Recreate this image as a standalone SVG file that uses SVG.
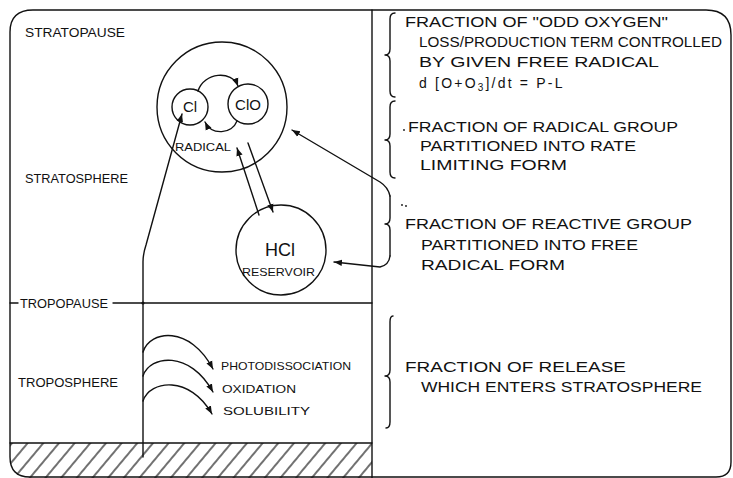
<svg xmlns="http://www.w3.org/2000/svg" width="733" height="478" viewBox="0 0 733 478">
<defs>
<style>
.ln{fill:none;stroke:#111;stroke-width:1.4;stroke-linecap:round;stroke-linejoin:round}
.t{font-family:"Liberation Sans",Arial,sans-serif;fill:#111}
.r{font-size:14px}
.l{font-size:13px}
.s{font-size:11px}
</style>
<marker id="ah" viewBox="0 0 10 10" refX="10" refY="5" markerWidth="8" markerHeight="8" markerUnits="userSpaceOnUse" orient="auto"><path d="M0,1 L10,5 L0,9 Z" fill="#111"/></marker>
<pattern id="hatch" patternUnits="userSpaceOnUse" width="12" height="12" patternTransform="rotate(40)"><line x1="6" y1="-1" x2="6" y2="13" stroke="#111" stroke-width="1.2"/></pattern>
<clipPath id="gc"><path d="M10,443 L372,443 L372,478 L30,478 Q10,478 10,458 Z"/></clipPath>
</defs>
<rect width="733" height="478" fill="#fff"/>

<g id="frame">
<path class="ln" d="M10,32 Q10,10 33,10 L706,10 Q731,10 731,35 L731,462 Q731,477 716,477 L30,477 Q10,477 10,457 Z"/>
<line class="ln" x1="372" y1="10" x2="372" y2="478"/>
</g>

<g id="ground">
<rect x="10" y="443" width="362" height="35" fill="url(#hatch)" clip-path="url(#gc)"/>
<line class="ln" x1="10" y1="443" x2="372" y2="443"/>
</g>

<g id="layers">
<text class="t l" x="25" y="37" textLength="100" lengthAdjust="spacingAndGlyphs">STRATOPAUSE</text>
<text class="t l" x="25" y="183" textLength="103" lengthAdjust="spacingAndGlyphs">STRATOSPHERE</text>
<line class="ln" x1="10" y1="303" x2="18" y2="303"/>
<text class="t l" x="20" y="308" textLength="88" lengthAdjust="spacingAndGlyphs">TROPOPAUSE</text>
<line class="ln" x1="113" y1="303" x2="372" y2="303"/>
<circle cx="143" cy="303" r="1.6" fill="#111"/>
<text class="t l" x="18" y="387" textLength="100" lengthAdjust="spacingAndGlyphs">TROPOSPHERE</text>
</g>

<g id="radical">
<circle class="ln" cx="222" cy="107" r="65"/>
<text class="t s" x="175" y="151" textLength="56" lengthAdjust="spacingAndGlyphs">RADICAL</text>
</g>
<g id="cl">
<circle class="ln" cx="190" cy="107" r="18"/>
<text class="t" x="190" y="112" font-size="15" text-anchor="middle">Cl</text>
</g>
<g id="clo">
<circle class="ln" cx="248" cy="104" r="20"/>
<text class="t" x="248" y="110" font-size="15" text-anchor="middle">ClO</text>
</g>
<g id="hcl">
<circle class="ln" cx="281" cy="250" r="45"/>
<text class="t" x="280" y="256" font-size="18" text-anchor="middle">HCl</text>
<text class="t s" x="242" y="276" textLength="73" lengthAdjust="spacingAndGlyphs">RESERVOIR</text>
</g>

<g id="processes">
<text class="t s" x="221" y="370" textLength="130" lengthAdjust="spacingAndGlyphs">PHOTODISSOCIATION</text>
<text class="t s" x="222" y="393" textLength="74" lengthAdjust="spacingAndGlyphs">OXIDATION</text>
<text class="t s" x="223" y="415" textLength="87" lengthAdjust="spacingAndGlyphs">SOLUBILITY</text>
</g>

<g id="notes">
<text class="t r" x="405" y="27" textLength="263" lengthAdjust="spacingAndGlyphs">FRACTION OF "ODD OXYGEN"</text>
<text class="t r" x="419" y="47" textLength="303" lengthAdjust="spacingAndGlyphs">LOSS/PRODUCTION TERM CONTROLLED</text>
<text class="t r" x="419" y="67" textLength="240" lengthAdjust="spacingAndGlyphs">BY GIVEN FREE RADICAL</text>
<text class="t r" x="419" y="88" font-size="15" letter-spacing="2.2">d [O+O<tspan font-size="10" dy="3">3</tspan><tspan dy="-3">]/dt = P-L</tspan></text>
<circle cx="404" cy="130" r="0.9" fill="#111"/>
<text class="t r" x="408" y="132" textLength="270" lengthAdjust="spacingAndGlyphs">FRACTION OF RADICAL GROUP</text>
<text class="t r" x="420" y="151" textLength="216" lengthAdjust="spacingAndGlyphs">PARTITIONED INTO RATE</text>
<text class="t r" x="420" y="170" textLength="147" lengthAdjust="spacingAndGlyphs">LIMITING FORM</text>
<circle cx="402" cy="205" r="0.9" fill="#111"/>
<circle cx="406" cy="206" r="0.9" fill="#111"/>
<text class="t r" x="405" y="229" textLength="287" lengthAdjust="spacingAndGlyphs">FRACTION OF REACTIVE GROUP</text>
<text class="t r" x="421" y="250" textLength="217" lengthAdjust="spacingAndGlyphs">PARTITIONED INTO FREE</text>
<text class="t r" x="421" y="270" textLength="144" lengthAdjust="spacingAndGlyphs">RADICAL FORM</text>
<text class="t r" x="405" y="372" textLength="221" lengthAdjust="spacingAndGlyphs">FRACTION OF RELEASE</text>
<text class="t r" x="421" y="392" textLength="281" lengthAdjust="spacingAndGlyphs">WHICH ENTERS STRATOSPHERE</text>
</g>

<g id="braces">
<path class="ln" d="M395,13 Q390,13 390,19 L390,49 Q390,55 385,55 Q390,55 390,61 L390,91 Q390,97 395,97"/>
<path class="ln" d="M395,101 Q390,101 390,107 L390,134 Q390,140 385,140 Q390,140 390,146 L390,172 Q390,178 395,178"/>
<path class="ln" d="M390,196 L390,218 Q390,224 385,224 Q390,224 390,230 L390,256"/>
<path class="ln" d="M393,316 Q390,316 390,322 L390,370 Q390,376 385,376 Q390,376 390,382 L390,422 Q390,428 386,428"/>
</g>

<g id="connectors">
<path class="ln" d="M143,457 L143,262 C143,255 144,251 146,245 L182,114" marker-end="url(#ah)"/>
<path class="ln" d="M198,91 C204,72 232,70 238,86" marker-end="url(#ah)"/>
<path class="ln" d="M237,121 C232,134 212,136 205,122" marker-end="url(#ah)"/>
<path class="ln" d="M259,215 L237,148" marker-end="url(#ah)"/>
<path class="ln" d="M248,143 L273,212" marker-end="url(#ah)"/>
<path class="ln" d="M390,196 Q388,187 380,182 L292,130" marker-end="url(#ah)"/>
<path class="ln" d="M390,256 Q389,265 380,267 L334,262" marker-end="url(#ah)"/>
<path class="ln" d="M143,352 C150,330 190,325 213,369" marker-end="url(#ah)"/>
<path class="ln" d="M143,376 C150,355 190,350 213,392" marker-end="url(#ah)"/>
<path class="ln" d="M143,401 C150,380 190,375 212,414" marker-end="url(#ah)"/>
</g>
</svg>
